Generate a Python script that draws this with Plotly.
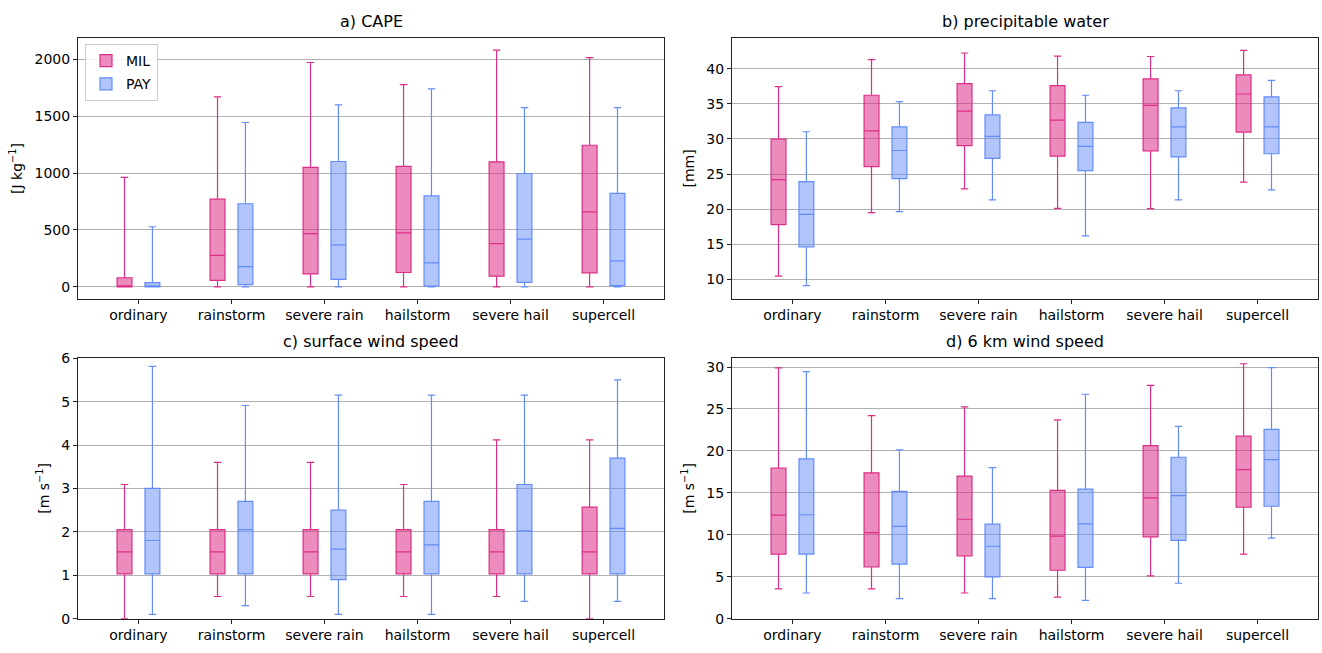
import plotly.graph_objects as go

categories = ["ordinary", "rainstorm", "severe rain", "hailstorm", "severe hail", "supercell"]
positions = [1, 2, 3, 4, 5, 6]

# a) CAPE  [lower, q1, median, q3, upper]
cape_mil_low = [0, 0, 0, 0, 0, 0]
cape_mil_q1 = [0, 57, 114, 126, 94, 123]
cape_mil_med = [5, 277, 468, 474, 379, 659]
cape_mil_q3 = [80, 770, 1050, 1058, 1098, 1244]
cape_mil_up = [961, 1669, 1971, 1777, 2080, 2014]
cape_pay_low = [0, 0, 0, 0, 0, 0]
cape_pay_q1 = [0, 20, 66, 6, 40, 11]
cape_pay_med = [8, 177, 368, 211, 419, 228]
cape_pay_q3 = [37, 730, 1101, 799, 996, 822]
cape_pay_up = [528, 1444, 1598, 1740, 1575, 1575]

# b) precipitable water
pw_mil_low = [10.46, 19.52, 22.88, 20.12, 20.07, 23.85]
pw_mil_q1 = [17.8, 26.06, 29.05, 27.57, 28.31, 30.98]
pw_mil_med = [24.2, 31.16, 33.97, 32.68, 34.8, 36.41]
pw_mil_q3 = [29.97, 36.23, 37.88, 37.6, 38.57, 39.13]
pw_mil_up = [37.47, 41.29, 42.25, 41.79, 41.75, 42.62]
pw_pay_low = [9.12, 19.66, 21.32, 16.21, 21.32, 22.74]
pw_pay_q1 = [14.64, 24.35, 27.25, 25.5, 27.44, 27.9]
pw_pay_med = [19.25, 28.36, 30.38, 28.96, 31.72, 31.72]
pw_pay_q3 = [23.94, 31.72, 33.42, 32.36, 34.43, 36.0]
pw_pay_up = [31.03, 35.31, 36.87, 36.23, 36.87, 38.34]

# c) surface wind speed
sw_mil_low = [0.0, 0.51, 0.51, 0.51, 0.51, 0.0]
sw_mil_q1 = [1.03, 1.03, 1.03, 1.03, 1.03, 1.03]
sw_mil_med = [1.54, 1.54, 1.54, 1.54, 1.54, 1.54]
sw_mil_q3 = [2.05, 2.05, 2.05, 2.05, 2.05, 2.57]
sw_mil_up = [3.09, 3.6, 3.6, 3.09, 4.12, 4.12]
sw_pay_low = [0.10, 0.30, 0.10, 0.10, 0.40, 0.40]
sw_pay_q1 = [1.03, 1.03, 0.90, 1.03, 1.03, 1.03]
sw_pay_med = [1.80, 2.05, 1.60, 1.70, 2.02, 2.08]
sw_pay_q3 = [3.0, 2.70, 2.50, 2.70, 3.09, 3.70]
sw_pay_up = [5.81, 4.91, 5.15, 5.15, 5.15, 5.50]

# d) 6 km wind speed
w6_mil_low = [3.56, 3.56, 3.06, 2.56, 5.11, 7.70]
w6_mil_q1 = [7.70, 6.16, 7.47, 5.77, 9.76, 13.28]
w6_mil_med = [12.35, 10.26, 11.85, 9.83, 14.4, 17.77]
w6_mil_q3 = [17.96, 17.38, 17.0, 15.29, 20.63, 21.76]
w6_mil_up = [29.89, 24.2, 25.24, 23.69, 27.8, 30.39]
w6_pay_low = [3.06, 2.4, 2.4, 2.17, 4.22, 9.6]
w6_pay_q1 = [7.70, 6.5, 4.99, 6.12, 9.33, 13.4]
w6_pay_med = [12.39, 10.99, 8.63, 11.3, 14.67, 18.97]
w6_pay_q3 = [19.05, 15.18, 11.27, 15.45, 19.24, 22.57]
w6_pay_up = [29.46, 20.13, 18.0, 26.75, 22.92, 29.93]

titles = ["a) CAPE", "b) precipitable water", "c) surface wind speed", "d) 6 km wind speed"]
ytitles = ["[J kg<sup>−1</sup>]", "[mm]", "[m s<sup>−1</sup>]", "[m s<sup>−1</sup>]"]

panels = [
    ((cape_mil_low, cape_mil_q1, cape_mil_med, cape_mil_q3, cape_mil_up),
     (cape_pay_low, cape_pay_q1, cape_pay_med, cape_pay_q3, cape_pay_up)),
    ((pw_mil_low, pw_mil_q1, pw_mil_med, pw_mil_q3, pw_mil_up),
     (pw_pay_low, pw_pay_q1, pw_pay_med, pw_pay_q3, pw_pay_up)),
    ((sw_mil_low, sw_mil_q1, sw_mil_med, sw_mil_q3, sw_mil_up),
     (sw_pay_low, sw_pay_q1, sw_pay_med, sw_pay_q3, sw_pay_up)),
    ((w6_mil_low, w6_mil_q1, w6_mil_med, w6_mil_q3, w6_mil_up),
     (w6_pay_low, w6_pay_q1, w6_pay_med, w6_pay_q3, w6_pay_up)),
]

W, H = 1322, 653
xdoms = [[78 / W, 664 / W], [732 / W, 1318 / W], [78 / W, 664 / W], [732 / W, 1318 / W]]
ydoms = [[(H - 298) / H, (H - 31) / H], [(H - 298) / H, (H - 31) / H],
         [(H - 626) / H, (H - 359) / H], [(H - 626) / H, (H - 359) / H]]
yranges = [[-104, 2184], [7.25, 44.35], [0, 6], [0, 31.05]]
ydticks = [500, 5, 1, 5]

mil_line = "rgb(220,45,135)"
mil_fill = "rgba(220,45,135,0.55)"
pay_line = "rgb(100,140,248)"
pay_fill = "rgba(100,140,248,0.5)"

font = "DejaVu Sans"
fig = go.Figure()

for i, (mil, pay) in enumerate(panels):
    xa = "x" if i == 0 else f"x{i+1}"
    ya = "y" if i == 0 else f"y{i+1}"
    for name, stats, off, lc, fc in [("MIL", mil, -0.15, mil_line, mil_fill),
                                      ("PAY", pay, 0.15, pay_line, pay_fill)]:
        low, q1, med, q3, up = stats
        fig.add_trace(go.Box(
            x=[p + off for p in positions],
            lowerfence=low, q1=q1, median=med, q3=q3, upperfence=up,
            name=name, legendgroup=name, showlegend=(i == 0),
            line=dict(color=lc, width=1.2), fillcolor=fc,
            width=0.16, whiskerwidth=0.5, boxpoints=False,
            xaxis=xa, yaxis=ya, hoverinfo="skip",
        ))

layout = dict(
    width=W, height=H, margin=dict(l=0, r=0, t=0, b=0),
    plot_bgcolor="white", paper_bgcolor="white",
    font=dict(family=font, size=13, color="black"),
    boxmode="overlay",
    legend=dict(x=85 / W, y=(H - 37) / H, xanchor="left", yanchor="top",
                bgcolor="rgba(255,255,255,0.85)", bordercolor="#cccccc", borderwidth=1,
                font=dict(size=14), tracegroupgap=2),
    annotations=[],
)

for i in range(4):
    xk = "xaxis" if i == 0 else f"xaxis{i+1}"
    yk = "yaxis" if i == 0 else f"yaxis{i+1}"
    ya = "y" if i == 0 else f"y{i+1}"
    xa = "x" if i == 0 else f"x{i+1}"
    layout[xk] = dict(domain=xdoms[i], anchor=ya, range=[0.35, 6.65],
                      tickvals=positions, ticktext=categories,
                      showline=True, mirror=True, linecolor="#222222", linewidth=1,
                      ticks="outside", ticklen=4, tickcolor="#222222",
                      showgrid=False, zeroline=False, tickfont=dict(size=14))
    layout[yk] = dict(domain=ydoms[i], anchor=xa, range=yranges[i], dtick=ydticks[i],
                      showline=True, mirror=True, linecolor="#222222", linewidth=1,
                      ticks="outside", ticklen=4, tickcolor="#222222",
                      showgrid=True, gridcolor="#b0b0b0", gridwidth=1, zeroline=False,
                      tickfont=dict(size=14),
                      title=dict(text=ytitles[i], font=dict(size=14), standoff=8))
    xc = (xdoms[i][0] + xdoms[i][1]) / 2
    layout["annotations"].append(dict(
        text=titles[i], x=xc, y=ydoms[i][1], xref="paper", yref="paper",
        xanchor="center", yanchor="bottom", yshift=5, showarrow=False,
        font=dict(size=16, family=font)))

fig.update_layout(**layout)
fig.write_html("out.html")
